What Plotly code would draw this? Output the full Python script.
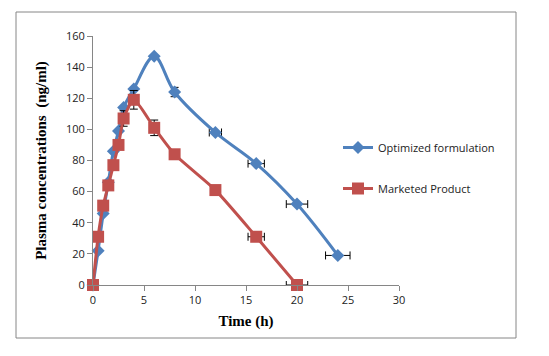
import plotly.graph_objects as go
import numpy as np

nan = np.nan

time_opt = [0, 0.5, 1, 1.5, 2, 2.5, 3, 4, 6, 8, 12, 16, 20, 24]
conc_opt = [0, 22, 46, 66, 86, 99, 114, 126, 147, 124, 98, 78, 52, 19]
err_y_opt = [nan, nan, nan, nan, nan, nan, nan, nan, nan, 3, nan, nan, nan, nan]
err_x_opt = [nan, nan, nan, nan, nan, nan, nan, nan, nan, nan, 0.6, 0.8, 1.05, 1.2]

time_mkt = [0, 0.5, 1, 1.5, 2, 2.5, 3, 4, 6, 8, 12, 16, 20]
conc_mkt = [0, 31, 51, 64, 77, 90, 107, 119, 101, 84, 61, 31, 0]
err_y_mkt = [nan, nan, nan, nan, nan, nan, 5, 6, 5, 3, 2, nan, nan]
err_x_mkt = [nan, nan, nan, nan, nan, nan, nan, nan, nan, nan, nan, 0.8, 1.05]

BLUE = "#4F81BD"
RED = "#C0504D"

fig = go.Figure()
fig.add_trace(go.Scatter(
    x=time_opt, y=conc_opt, name="Optimized formulation", legendgroup="a",
    mode="lines+markers", line=dict(color=BLUE, width=3, shape="spline", smoothing=1),
    marker=dict(symbol="diamond", size=10, color=BLUE),
    error_y=dict(type="data", array=err_y_opt, color="black", thickness=1, width=4),
    error_x=dict(type="data", array=err_x_opt, color="black", thickness=1, width=4),
    cliponaxis=False,
))
fig.add_trace(go.Scatter(
    x=time_mkt, y=conc_mkt, name="Marketed Product", legendgroup="b",
    mode="lines+markers", line=dict(color=RED, width=3, shape="spline", smoothing=0.6),
    marker=dict(symbol="square", size=12, color=RED),
    error_y=dict(type="data", array=err_y_mkt, color="black", thickness=1, width=4),
    error_x=dict(type="data", array=err_x_mkt, color="black", thickness=1, width=4),
    cliponaxis=False,
))

# page offset (browser body margin) and plot-area pixel geometry (reference coords)
OFF = 8
L, R, T, B = 93, 399, 36, 285
W, H = 549 - OFF, 356 - OFF
pw, ph = R - L, B - T

def px_x(p):
    return (p - L) / pw

def px_y(p):
    return (B - p) / ph

fig.add_shape(type="rect", xref="paper", yref="paper",
              x0=px_x(16), x1=px_x(516), y0=px_y(338), y1=px_y(12),
              line=dict(color="#868686", width=1), fillcolor="rgba(0,0,0,0)")

tickfont = dict(family="Open Sans, Liberation Sans, sans-serif", size=11, color="#222")
titlefont = dict(family="Liberation Serif, Times New Roman, serif", size=15, color="black")

fig.update_layout(
    width=W, height=H,
    margin=dict(l=L - OFF, r=W - (R - OFF), t=T - OFF, b=H - (B - OFF), autoexpand=False),
    paper_bgcolor="white", plot_bgcolor="white",
    showlegend=True,
    legend=dict(x=px_x(338), y=px_y(133), xanchor="left", yanchor="top",
                font=dict(family="Open Sans, Liberation Sans, sans-serif", size=11, color="#222"),
                tracegroupgap=22, itemwidth=30, bgcolor="rgba(0,0,0,0)"),
    xaxis=dict(range=[0, 30], dtick=5, tick0=0, showgrid=False, zeroline=False,
               showline=True, linecolor="#868686", linewidth=1,
               ticks="outside", ticklen=5, tickcolor="#868686",
               tickfont=tickfont, automargin=False,
               title=dict(text="<b>Time (h)</b>", font=titlefont, standoff=9)),
    yaxis=dict(range=[0, 160], dtick=20, tick0=0, showgrid=False, zeroline=False,
               showline=True, linecolor="#868686", linewidth=1,
               ticks="outside", ticklen=5, tickcolor="#868686",
               tickfont=tickfont, automargin=False,
               title=dict(text="<b>Plasma concentrations  (ng/ml)</b>", font=titlefont, standoff=15)),
)

fig.write_html("out.html")
